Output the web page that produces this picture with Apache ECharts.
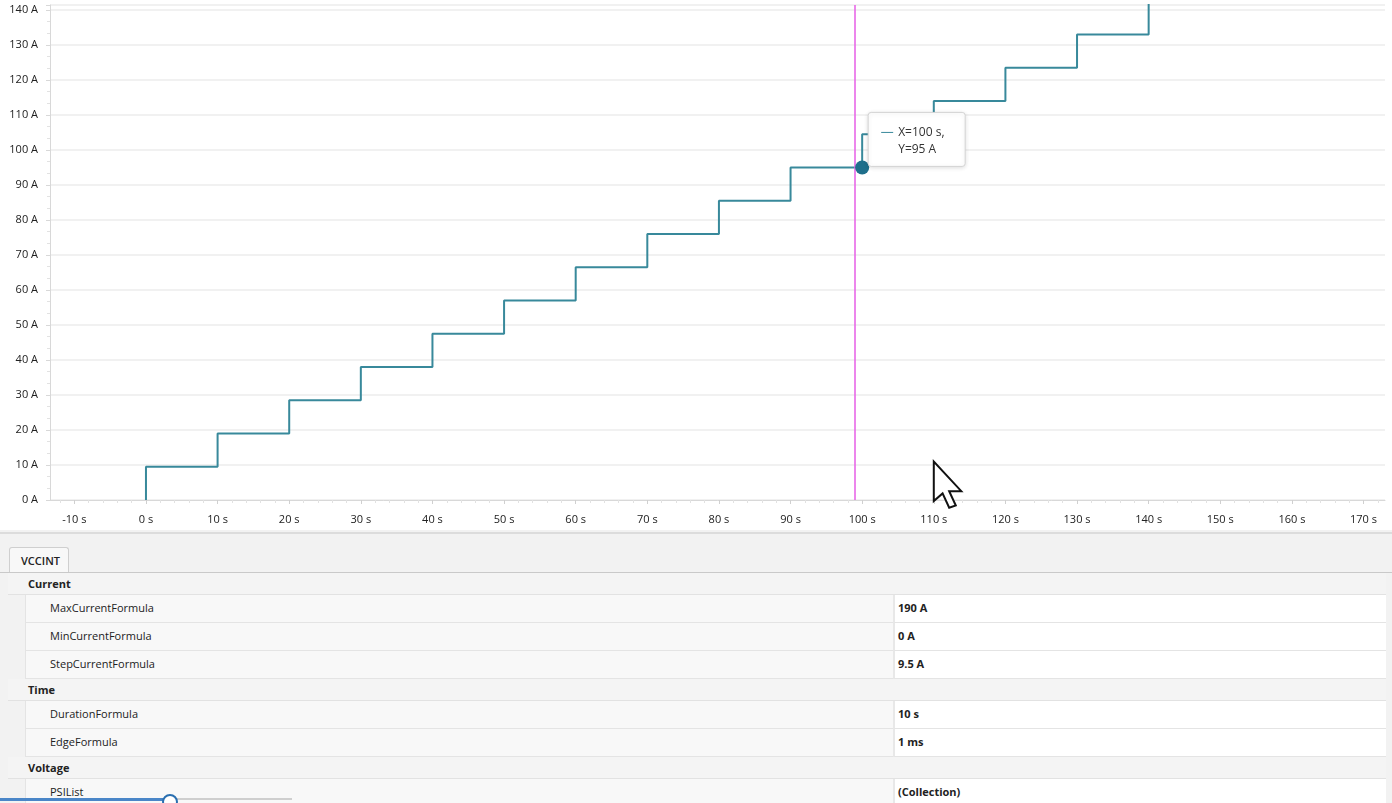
<!DOCTYPE html>
<html><head><meta charset="utf-8">
<script src="https://cdn.jsdelivr.net/npm/echarts@6/dist/echarts.min.js"></script>
<style>
html,body{margin:0;padding:0;width:1392px;height:803px;overflow:hidden;background:#fff;font-family:"Open Sans","Noto Sans",sans-serif;}
#chart{position:absolute;left:0;top:0;width:1392px;height:530px;}
#panel{position:absolute;left:0;top:530px;width:1392px;height:273px;background:#f2f2f2;}
.sep{position:absolute;left:0;top:2px;width:1392px;height:2px;background:#dcdcdc;}
.tab{position:absolute;left:9px;top:17px;width:60px;height:25px;background:#f8f8f8;border:1px solid #cfcfcf;border-bottom:none;border-radius:3px 3px 0 0;font-size:11px;font-weight:600;color:#222;line-height:25px;text-indent:11px;box-sizing:border-box;}
.tabline{position:absolute;left:0;top:42px;width:1392px;height:1px;background:#c9c9c9;}
.row{position:absolute;left:8px;width:1378px;box-sizing:border-box;font-size:11px;color:#222;}
.hdr{background:#f4f4f4;border-bottom:1px solid #e2e2e2;font-weight:700;}
.hdr span{position:absolute;left:20px;top:0;}
.prop .nm{position:absolute;left:17px;top:0;width:868px;height:100%;background:#f8f8f8;border-left:1px solid #e4e4e4;border-bottom:1px solid #e4e4e4;box-sizing:border-box;padding-left:24px;}
.prop .vl{position:absolute;left:885px;top:0;width:493px;height:100%;background:#fff;border-left:2px solid #e8e8e8;border-bottom:1px solid #e4e4e4;box-sizing:border-box;padding-left:3px;font-weight:700;}
.slider{position:absolute;left:0;top:268px;width:165px;height:3px;background:#4a86c8;}
.slider2{position:absolute;left:177px;top:268px;width:115px;height:2px;background:#cfcfcf;}
.knob{position:absolute;left:162px;top:264px;width:16px;height:16px;border-radius:50%;border:2px solid #2a6fb0;background:#fff;box-sizing:border-box;}
</style></head>
<body>
<div id="chart"></div>
<div id="panel">
  <div class="sep"></div>
  <div class="tab">VCCINT</div>
  <div class="tabline"></div>
  <div id="grid"></div>
  <div class="slider"></div><div class="slider2"></div><div class="knob"></div>
</div>
<script>
// ---- data ----
const stepTimes = [0, 10, 20, 30, 40, 50, 60, 70, 80, 90, 100, 110, 120, 130, 140, 150];
const stepCurrents = [0, 9.5, 19, 28.5, 38, 47.5, 57, 66.5, 76, 85.5, 95, 104.5, 114, 123.5, 133, 142.5];
const xTickValues = [-10, 0, 10, 20, 30, 40, 50, 60, 70, 80, 90, 100, 110, 120, 130, 140, 150, 160, 170];
const cursorTime = 99;
const hoverTime = 100;
const hoverCurrent = 95;
const gridSections = ['Current', 'Time', 'Voltage'];
const currentProps = ['MaxCurrentFormula', 'MinCurrentFormula', 'StepCurrentFormula'];
const currentVals = ['190 A', '0 A', '9.5 A'];
const timeProps = ['DurationFormula', 'EdgeFormula'];
const timeVals = ['10 s', '1 ms'];
const voltageProps = ['PSIList'];
const voltageVals = ['(Collection)'];

// ---- property grid (HTML) ----
(function(){
  const g = document.getElementById('grid');
  let y = 43;
  function hdr(t){ const d=document.createElement('div'); d.className='row hdr'; d.style.top=y+'px'; d.style.height='22px'; d.style.lineHeight='21px'; d.innerHTML='<span>'+t+'</span>'; g.appendChild(d); y+=22; }
  function prop(n,v){ const d=document.createElement('div'); d.className='row prop'; d.style.top=y+'px'; d.style.height='28px'; d.style.lineHeight='26px'; d.innerHTML='<div class="nm">'+n+'</div><div class="vl">'+v+'</div>'; g.appendChild(d); y+=28; }
  hdr(gridSections[0]); currentProps.forEach((p,i)=>prop(p,currentVals[i]));
  hdr(gridSections[1]); timeProps.forEach((p,i)=>prop(p,timeVals[i]));
  hdr(gridSections[2]); voltageProps.forEach((p,i)=>prop(p,voltageVals[i]));
})();

// ---- chart ----
const chart = echarts.init(document.getElementById('chart'));
const lineColor = '#38899b';
const seriesData = stepTimes.map((t,i)=>[t, stepCurrents[i]]);
const font = '"Open Sans","Noto Sans",sans-serif';
const xMin = -13.4, xMax = 173;
const minorX = [];
for (let i = 0; i < xTickValues.length; i++) { for (let k = 1; k < 5; k++) { const v = xTickValues[i] + k*2; if (v < xMax) minorX.push(v); } }
minorX.push(-12);
chart.setOption({
  animation:false,
  backgroundColor:'#fff',
  grid:{left:50,right:7,top:5,bottom:30},
  xAxis:[{type:'value',min:xMin,max:xMax,
    axisLine:{show:true,onZero:false,lineStyle:{color:'#d8d8d8',width:1}},
    axisTick:{show:true,length:4,customValues:xTickValues,lineStyle:{color:'#d0d0d0'}},
    splitLine:{show:false},
    axisLabel:{margin:14,color:'#222',fontSize:11,fontFamily:font,customValues:xTickValues,
      formatter:v=> v+' s'}
  },{type:'value',min:xMin,max:xMax,position:'bottom',
    axisLine:{show:false,onZero:false},
    axisTick:{show:true,length:3,customValues:minorX,lineStyle:{color:'#e2e2e2'}},
    splitLine:{show:false},
    axisLabel:{show:false}
  }],
  yAxis:{type:'value',min:0,max:141.4,interval:10,
    axisLine:{show:true,onZero:false,lineStyle:{color:'#d8d8d8',width:1}},
    axisTick:{show:true,length:4,lineStyle:{color:'#d8d8d8'}},
    minorTick:{show:true,splitNumber:3,length:3,lineStyle:{color:'#e2e2e2'}},
    splitLine:{show:true,lineStyle:{color:'#ececec',width:1.5}},
    axisLabel:{margin:12,color:'#222',fontSize:11,fontFamily:font,
      formatter:v=> (Math.abs(v%10)<1e-6 ? v+' A' : '')}
  },
  series:[{
    type:'line',step:'start',data:seriesData,showSymbol:false,symbol:'none',
    lineStyle:{color:lineColor,width:2},
    itemStyle:{color:lineColor},
    emphasis:{disabled:true},
    clip:true,
    markLine:{silent:true,symbol:'none',animation:false,label:{show:false},
      lineStyle:{color:'#e65ee6',width:1.5,type:'solid'},
      data:[{xAxis:cursorTime}]},
    markPoint:{silent:true,symbol:'circle',symbolSize:14,label:{show:false},
      itemStyle:{color:'#1f6f8b'},
      data:[{coord:[hoverTime,hoverCurrent]}]}
  }]
});

// tooltip box + mouse cursor decoration
(function(){
  const p = chart.convertToPixel({xAxisIndex:0,yAxisIndex:0},[hoverTime,hoverCurrent]);
  const bx = p[0]+6, by = p[1]-55;
  const cur = chart.convertToPixel({xAxisIndex:0,yAxisIndex:0},[110.0,11]);
  const pts = [[0,0],[0,36],[8,29],[14,42],[20,40],[14,27],[25,27]].map(q=>[q[0]*1.1, q[1]*1.1]);
  chart.setOption({graphic:[
    {type:'rect',x:bx,y:by,shape:{width:97,height:54,r:3},
      style:{fill:'#fff',stroke:'#d4d4d4',lineWidth:1,shadowBlur:4,shadowColor:'rgba(0,0,0,0.12)',shadowOffsetY:1},silent:true,z:90},
    {type:'line',x:bx,y:by,shape:{x1:13,y1:20,x2:25,y2:20},style:{stroke:lineColor,lineWidth:1},silent:true,z:91},
    {type:'text',x:bx+30,y:by+12,style:{text:'X='+hoverTime+' s,\nY='+hoverCurrent+' A',fill:'#333',fontSize:12,fontFamily:font,lineHeight:17},silent:true,z:91},
    {type:'polygon',x:cur[0],y:cur[1],shape:{points:pts},
      style:{fill:'#fff',stroke:'#111',lineWidth:2},silent:true,z:100}
  ]});
})();
</script>
</body></html>
